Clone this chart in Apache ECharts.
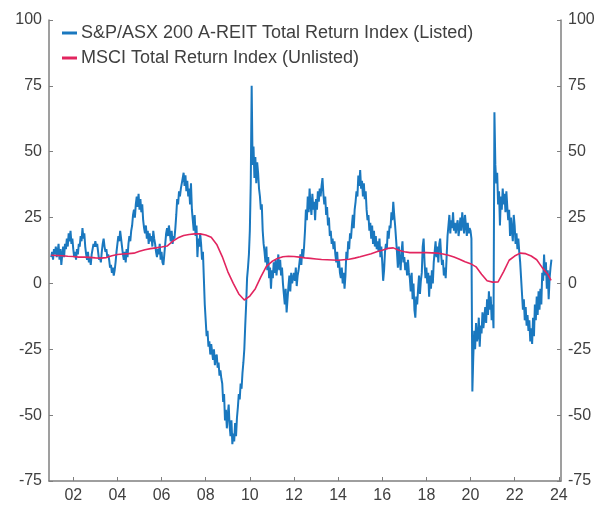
<!DOCTYPE html>
<html>
<head>
<meta charset="utf-8">
<script src="https://cdn.jsdelivr.net/npm/echarts@6/dist/echarts.min.js"></script>
<style>
html,body{margin:0;padding:0;background:#fff;}
#chart{width:602px;height:505px;}
</style>
</head>
<body>
<div id="chart"></div>
<script>
// Tick labels / axis
var yearTicks = [2002,2004,2006,2008,2010,2012,2014,2016,2018,2020,2022,2024];
var yTicks = [-75,-50,-25,0,25,50,75,100];

// Series names
var listedName = 'S&P/ASX 200 A-REIT Total Return Index (Listed)';
var unlistedName = 'MSCI Total Return Index (Unlisted)';

// Listed index: semi-monthly readings (24 per year), starting 2001.0
var listed2001 = [10, 12, 9, 13, 11, 14, 10, 12, 15, 9, 13, 7, 11, 14, 10, 15, 13, 17, 14, 19, 16, 20, 15, 17];
var listed2002 = [13, 10, 12, 9, 13, 11, 15, 14, 18, 16, 21, 17, 19, 14, 11, 9, 12, 8, 10, 7, 11, 13, 15, 14];
var listed2003 = [16, 14, 15, 12, 9, 10, 8, 12, 15, 17, 14, 12, 13, 10, 11, 9, 6, 7, 4, 6, 3, 5, 8, 12];
var listed2004 = [15, 18, 16, 20, 17, 14, 11, 9, 12, 8, 13, 10, 15, 18, 16, 20, 22, 26, 28, 25, 30, 33, 29, 34];
var listed2005 = [28, 32, 27, 30, 24, 21, 19, 22, 17, 20, 15, 19, 16, 18, 14, 20, 17, 15, 12, 10, 13, 11, 15, 9];
var listed2006 = [12, 8, 7, 11, 15, 19, 21, 18, 22, 19, 16, 20, 15, 18, 17, 21, 26, 32, 30, 35, 33, 36, 38, 40];
var listed2007 = [42, 37, 41, 35, 39, 33, 36, 30, 38, 28, 24, 20, 26, 18, 22, 10, 17, 14, 19, 15, 9, 12, 2, -8];
var listed2008 = [-14, -20, -18, -24, -22, -27, -23, -26, -29, -25, -31, -28, -27, -32, -30, -35, -33, -36, -38, -45, -42, -52, -48, -55];
var listed2009 = [-50, -46, -54, -58, -52, -61, -57, -60, -53, -58, -51, -47, -42, -44, -38, -40, -34, -30, -25, -16, -8, 2, 6, 11];
var listed2010 = [20, 38, 75, 45, 52, 40, 48, 38, 46, 42, 36, 33, 28, 30, 20, 15, 12, 8, 14, 5, 10, 2, 6, -2];
var listed2011 = [5, 2, 8, 4, 9, 3, 7, 11, 5, 9, 3, 6, 0, -4, -8, -2, -11, -6, -1, 3, -3, 4, 0, 2];
var listed2012 = [4, 1, 6, -1, 3, 5, 8, 11, 7, 13, 10, 14, 20, 28, 24, 33, 27, 36, 30, 26, 34, 28, 31, 24];
var listed2013 = [32, 28, 35, 31, 36, 33, 37, 40, 34, 30, 33, 26, 29, 22, 25, 18, 20, 15, 17, 13, 16, 11, 8, 12];
var listed2014 = [6, 9, 4, 2, 6, 0, 4, -2, 3, 12, 9, 16, 13, 19, 17, 22, 26, 21, 28, 31, 35, 33, 41, 37];
var listed2015 = [43, 36, 39, 33, 38, 32, 35, 28, 24, 26, 20, 23, 17, 22, 15, 20, 14, 18, 13, 16, 12, 17, 10, 14];
var listed2016 = [8, 1, 5, 12, 15, 13, 20, 17, 22, 21, 27, 24, 31, 26, 22, 17, 12, 6, 14, 9, 5, 12, 16, 8];
var listed2017 = [10, 5, 8, 3, 9, 4, 2, -3, 4, -6, 0, -10, -13, -5, -8, -2, 3, -4, 1, 4, 14, 17, 8, 2];
var listed2018 = [6, 0, 4, -5, 3, -2, 5, 0, 8, 12, 16, 10, 14, 8, 15, 17, 11, 7, 9, 3, 6, 2, 10, 18];
var listed2019 = [22, 26, 19, 24, 21, 27, 20, 23, 19, 22, 24, 18, 21, 25, 20, 27, 23, 19, 26, 22, 18, 23, 19, 21];
var listed2020 = [20, 17, -41, -28, -18, -25, -15, -22, -20, -13, -24, -16, -19, -11, -17, -13, -9, -15, -6, -12, -3, -10, -5, -14];
var listed2021 = [-8, -17, 65, 45, 38, 42, 30, 35, 22, 33, 28, 36, 30, 34, 27, 35, 29, 24, 28, 18, 25, 20, 16, 26];
var listed2022 = [22, 15, 19, 13, 17, 12, 8, 2, -4, -10, -6, -14, -9, -16, -12, -18, -14, -22, -17, -23, -13, -20, -8, -14];
var listed2023 = [-5, -12, -3, -10, -2, -8, 4, 1, 11, 3, 8, -2, 5, -6, 2, 6, 9];

var listedStartYear = 2001;
var listedPerYear = 24;

// Unlisted (MSCI) index: [decimal year, value]
var unlistedPoints = [
  [2001.0,10.7],[2001.25,10.6],[2001.5,10.5],[2001.75,10.3],
  [2002.0,10.2],[2002.25,10.0],[2002.5,10.0],[2002.75,9.9],
  [2003.0,9.7],[2003.25,9.6],[2003.5,9.8],[2003.75,10.5],
  [2004.0,11.0],[2004.25,11.2],[2004.5,11.3],[2004.75,11.5],
  [2005.0,12.2],[2005.25,12.8],[2005.5,13.2],[2005.75,13.5],
  [2006.0,13.8],[2006.25,14.2],[2006.5,16.0],[2006.75,17.3],
  [2007.0,18.2],[2007.25,18.6],[2007.5,18.8],[2007.75,18.8],
  [2008.0,18.4],[2008.25,17.5],[2008.5,14.8],[2008.75,10.2],
  [2009.0,4.5],[2009.25,0.0],[2009.5,-4.0],[2009.75,-6.3],
  [2010.0,-4.8],[2010.25,-2.0],[2010.5,2.5],[2010.75,6.5],
  [2011.0,8.3],[2011.25,9.5],[2011.5,10.1],[2011.75,10.3],
  [2012.0,10.2],[2012.25,10.0],[2012.5,9.7],[2012.75,9.5],
  [2013.0,9.3],[2013.25,9.1],[2013.5,9.0],[2013.75,8.9],
  [2014.0,8.8],[2014.25,9.0],[2014.5,9.2],[2014.75,9.6],
  [2015.0,10.1],[2015.25,10.7],[2015.5,11.3],[2015.75,12.0],
  [2016.0,12.6],[2016.25,13.3],[2016.5,13.5],[2016.75,12.6],
  [2017.0,12.0],[2017.25,11.7],[2017.5,11.7],[2017.75,11.7],
  [2018.0,11.7],[2018.25,11.6],[2018.5,11.5],[2018.75,11.2],
  [2019.0,10.7],[2019.25,10.0],[2019.5,9.2],[2019.75,8.2],
  [2020.0,7.5],[2020.25,6.3],[2020.5,3.5],[2020.75,1.0],
  [2021.0,0.5],[2021.25,0.6],[2021.5,4.5],[2021.75,8.8],
  [2022.0,10.4],[2022.25,11.5],[2022.5,11.3],[2022.75,10.4],
  [2023.0,9.0],[2023.25,6.0],[2023.5,3.5],[2023.65,1.2]
];

var listedYears = [listed2001,listed2002,listed2003,listed2004,listed2005,listed2006,listed2007,listed2008,
  listed2009,listed2010,listed2011,listed2012,listed2013,listed2014,listed2015,listed2016,listed2017,
  listed2018,listed2019,listed2020,listed2021,listed2022,listed2023];

var listedData = [];
listedYears.forEach(function(arr, yi){
  arr.forEach(function(v, i){
    listedData.push([listedStartYear + yi + i / listedPerYear, v]);
  });
});

var FONT = '"Liberation Sans", Arial, sans-serif';
var TXT = '#404040';
var AX = '#7f7f7f';

var chart = echarts.init(document.getElementById('chart'), null, {renderer:'canvas'});
chart.setOption({
  animation: false,
  backgroundColor: '#ffffff',
  textStyle: {fontFamily: FONT},
  grid: {left: 49, right: 41, top: 20, bottom: 24},
  legend: {
    orient: 'vertical',
    left: 57, top: 19,
    itemWidth: 15, itemHeight: 3, itemGap: 7,
    icon: 'rect',
    textStyle: {fontFamily: FONT, fontSize: 18, color: TXT, lineHeight: 18, padding:[0,0,0,-1]},
    data: [listedName, unlistedName]
  },
  xAxis: {
    type: 'value',
    min: 2000.9, max: 2024.1,
    axisLine: {show: true, onZero: false, lineStyle: {color: AX, width: 1.5}},
    axisTick: {show: true, inside: true, length: 4, customValues: yearTicks, lineStyle: {color: AX, width: 1}},
    axisLabel: {
      customValues: yearTicks, margin: 7,
      fontFamily: FONT, fontSize: 16, color: TXT,
      formatter: function(v){ var s = String(Math.round(v) % 100); return s.length < 2 ? '0' + s : s; }
    },
    splitLine: {show: false}
  },
  yAxis: [
    {
      type: 'value', min: -75, max: 100, interval: 25, position: 'left',
      axisLine: {show: true, lineStyle: {color: AX, width: 1.5}},
      axisTick: {show: true, inside: true, length: 4, lineStyle: {color: AX, width: 1}},
      axisLabel: {margin: 7, fontFamily: FONT, fontSize: 16, color: TXT},
      splitLine: {show: false}
    },
    {
      type: 'value', min: -75, max: 100, interval: 25, position: 'right',
      axisLine: {show: true, lineStyle: {color: AX, width: 1.5}},
      axisTick: {show: true, inside: true, length: 4, lineStyle: {color: AX, width: 1}},
      axisLabel: {margin: 7, fontFamily: FONT, fontSize: 16, color: TXT},
      splitLine: {show: false}
    }
  ],
  series: [
    {
      name: listedName, type: 'line', data: listedData,
      showSymbol: false, symbol: 'none', sampling: null,
      lineStyle: {color: '#1a78bf', width: 2}, itemStyle: {color: '#1a78bf'}
    },
    {
      name: unlistedName, type: 'line', data: unlistedPoints,
      showSymbol: false, symbol: 'none',
      lineStyle: {color: '#e2255f', width: 1.6}, itemStyle: {color: '#e2255f'}
    }
  ]
});
</script>
</body>
</html>
